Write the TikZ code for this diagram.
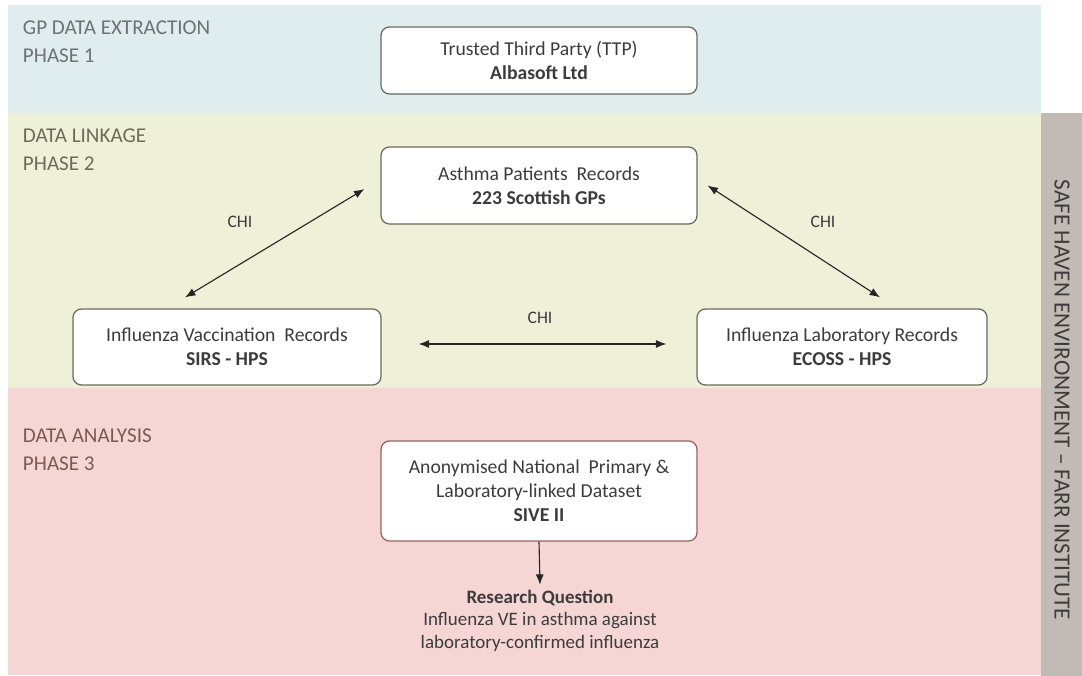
\documentclass[tikz,border=0pt]{standalone}
\usepackage{fontspec}
\setmainfont{Carlito}
\usepackage{tikz}
\usetikzlibrary{calc,arrows.meta}
\definecolor{bandblue}{HTML}{DFEDEF}
\definecolor{bandgreen}{HTML}{EEF1D8}
\definecolor{bandred}{HTML}{F5D6D4}
\definecolor{sidegray}{HTML}{C2BAB4}
\definecolor{txtgray}{HTML}{3C3C3C}
\definecolor{phaseblue}{HTML}{6E7274}
\definecolor{phasegreen}{HTML}{6C6C58}
\definecolor{phasered}{HTML}{7C5954}
\definecolor{boxline}{HTML}{6A6A62}
\definecolor{boxred}{HTML}{94625E}

\begin{document}
\begin{tikzpicture}[>={Latex[length=2.6mm,width=2mm]},
	recbox/.style={draw=boxline,line width=0.9pt,rounded corners=6pt,fill=white,
		text=txtgray,align=center,font=\fontsize{14}{17}\selectfont},
	phase/.style={anchor=north west,align=left,font=\fontsize{15}{20}\selectfont},
	chi/.style={text=txtgray,font=\fontsize{12.5}{14}\selectfont},
	link/.style={<->,line width=0.8pt,black!85}]
\useasboundingbox (0,0) rectangle (27.05,-16.9);
% bands
\fill[bandblue] (0.2,-0.125) rectangle (26.02,-2.83);
\fill[bandgreen] (0.2,-2.83) rectangle (26.02,-9.7);
\fill[bandred] (0.2,-9.7) rectangle (26.02,-16.875);
\fill[sidegray] (26.02,-2.83) rectangle (27.05,-16.9);
\node[rotate=-90,text=txtgray,font=\fontsize{16.5}{18}\selectfont] (side) at (26.55,-10.0)
	{SAFE HAVEN ENVIRONMENT -- FARR INSTITUTE};
% phase titles
\node[phase,text=phaseblue] (ph1) at (0.45,-0.4) {GP DATA EXTRACTION\\PHASE 1};
\node[phase,text=phasegreen] (ph2) at (0.45,-3.1) {DATA LINKAGE\\PHASE 2};
\node[phase,text=phasered] (ph3) at (0.45,-10.6) {DATA ANALYSIS\\PHASE 3};
% boxes
\node[recbox,minimum width=7.9cm,minimum height=1.675cm] (ttp) at (13.475,-1.5125)
	{Trusted Third Party (TTP)\\\textbf{Albasoft Ltd}};
\node[recbox,minimum width=7.9cm,minimum height=1.925cm] (asthma) at (13.475,-4.6375)
	{Asthma Patients\ \ Records\\\textbf{223 Scottish GPs}};
\node[recbox,minimum width=7.7cm,minimum height=1.9cm] (vacc) at (5.675,-8.675)
	{Influenza Vaccination\ \ Records\\\textbf{SIRS - HPS}};
\node[recbox,minimum width=7.25cm,minimum height=1.9cm] (lab) at (21.05,-8.675)
	{Influenza Laboratory Records\\\textbf{ECOSS - HPS}};
\node[recbox,draw=boxred,minimum width=7.9cm,minimum height=2.5cm] (sive) at (13.475,-12.275)
	{Anonymised National\ \ Primary \&\\Laboratory-linked Dataset\\\textbf{SIVE II}};
\node[anchor=north,align=center,text=txtgray,font=\fontsize{13.5}{16}\selectfont] (rq) at (13.5,-14.62)
	{\textbf{Research Question}\\Influenza VE in asthma against\\laboratory-confirmed influenza};
% links
\coordinate (l1) at ($(asthma.west)+(-0.4,-0.09)$);
\coordinate (l2) at ($(vacc.north)+(-1.05,0.275)$);
\coordinate (r1) at ($(asthma.east)+(0.25,0)$);
\coordinate (r2) at ($(lab.north)+(0.95,0.275)$);
\coordinate (h1) at ($(vacc.east)+(0.925,0.075)$);
\coordinate (h2) at ($(lab.west)+(-0.75,0.075)$);
\draw[link] (l1)--(l2);
\draw[link] (r1)--(r2);
\draw[link] (h1)--(h2);
\draw[->,line width=0.8pt,black!85] (sive.south)--(rq.north);
\node[chi] (chil) at (6.0,-5.55) {CHI};
\node[chi] (chir) at (20.575,-5.55) {CHI};
\node[chi] (chih) at (13.5,-7.95) {CHI};
\end{tikzpicture}
\end{document}
